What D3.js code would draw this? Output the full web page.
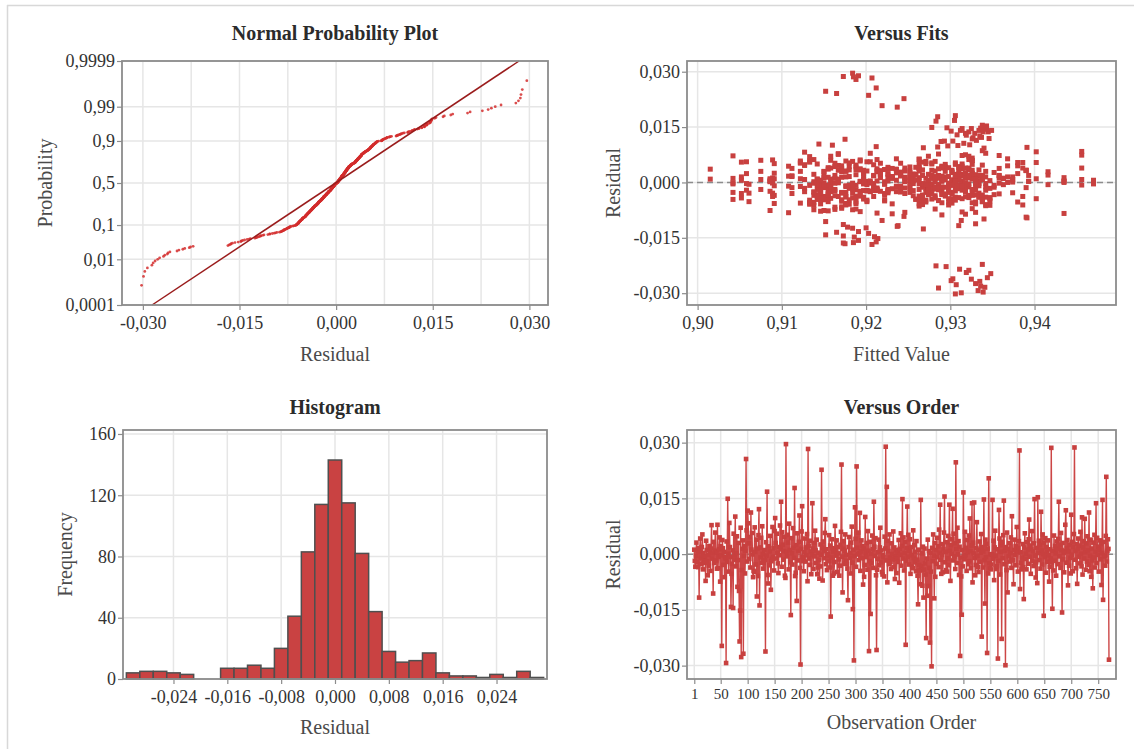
<!DOCTYPE html>
<html>
<head>
<meta charset="utf-8">
<script src="https://cdn.jsdelivr.net/npm/d3@7"></script>
<style>
  body { margin: 0; background: #fff; }
  svg text { font-family: "Liberation Serif", "Times New Roman", serif; }
</style>
</head>
<body>
<svg id="chart" width="1134" height="749"></svg>
<script>
// residuals in observation order, units of 0.0001
var residuals = [
  12,-18,-34,-4,31,-22,8,-35,17,-117,
  5,42,-9,-27,19,53,-41,3,-14,-23,
  -6,-72,36,11,-19,-57,-2,-31,22,7,
  -45,15,78,-12,2,-106,33,-24,9,58,
  -17,4,-39,79,-38,-7,13,45,-74,21,
  -3,-247,38,16,-29,6,-62,-7,-11,-293,
  34,-21,149,1,-47,84,19,-8,-142,-53,
  -26,10,-145,55,-15,-3,101,-33,3,48,
  -88,-16,30,-99,-235,-152,71,-277,-43,14,
  37,-268,-5,22,-52,9,256,64,-20,117,
  83,29,-13,46,-36,112,12,57,-1,-62,
  -45,-48,72,6,-28,39,-114,15,-59,51,
  121,-138,18,-9,44,-23,75,0,-39,-24,
  11,-16,-262,32,-4,168,-56,-79,21,-30,
  7,49,-96,-19,-13,73,-7,16,-44,62,
  97,30,-12,55,4,-25,-51,19,-3,77,
  13,141,-34,59,25,-15,8,47,-58,-64,
  296,6,-6,52,31,-41,82,11,-22,-164,
  43,2,-28,70,17,-10,178,-59,-50,24,
  -126,56,-17,9,33,104,-37,-297,14,61,
  129,-8,-19,-46,5,42,-20,18,-3,54,
  -73,283,22,-12,36,-29,7,-54,-1,137,
  15,-40,30,-6,63,10,-24,39,-54,-36,
  4,-15,-66,-33,26,-2,227,17,-71,34,
  -11,8,57,94,-27,13,-43,-5,0,-19,
  51,-36,23,-168,-9,40,16,-58,6,-52,
  -21,76,11,-4,37,-48,19,2,-14,-58,
  -31,25,60,241,-7,-103,14,35,-26,9,
  53,-18,-2,-27,-39,-124,19,46,-10,3,
  -52,31,74,-23,-148,12,-286,-5,126,41,
  -34,236,17,-1,58,-16,2,111,-45,7,
  37,-11,22,-82,15,-61,-29,100,4,-8,
  30,-42,62,9,-261,-19,33,-161,1,-25,
  50,13,-37,141,20,-5,43,-57,-258,-42,
  -13,6,39,-30,18,71,-22,10,-48,-55,
  -3,-8,-60,47,15,289,-17,181,-76,36,
  8,-27,53,-9,-21,-40,29,0,-14,61,
  -35,18,-67,-6,11,-51,-12,5,-21,38,
  -77,14,-2,56,-31,22,148,-12,45,-44,
  3,33,-244,-18,16,128,-7,52,-28,9,
  40,-53,19,-3,-33,-38,64,-10,24,-22,
  6,-46,35,-15,-58,-135,12,-29,-44,-81,
  146,-33,2,-85,20,-117,-42,15,-25,-55,
  -226,-12,-112,39,-86,8,-37,-238,4,-47,
  -302,17,-19,53,-4,-119,30,-61,11,-26,
  44,-8,21,-35,66,4,133,-15,-53,-2,
  27,-49,13,58,155,-22,6,-43,32,-47,
  -11,49,-30,133,9,-72,24,1,40,122,
  -17,55,-6,29,-40,247,14,-24,71,-1,
  35,-56,20,-274,-9,-60,-163,11,-33,166,
  -6,-14,60,-3,17,-45,38,5,-27,50,
  -19,96,8,-38,23,137,-76,31,2,139,
  -10,-57,-29,16,86,-5,-35,-48,12,34,
  -21,4,54,-222,19,-36,7,147,-16,-133,
  39,-8,28,-266,15,-52,204,-24,-38,0,
  -41,-28,-1,146,-13,36,-70,18,63,-4,
  -40,-32,13,-281,-18,119,42,-55,6,24,
  -228,33,-11,51,144,-27,9,-299,19,-43,
  58,-103,14,-6,30,-20,3,45,-37,102,
  -15,-17,-81,11,39,-2,21,-30,73,7,
  -47,16,35,279,-94,5,-23,-41,-9,27,
  -35,-121,18,56,-13,1,-41,32,12,-26,
  40,93,-7,23,-53,14,62,-19,8,-32,
  29,148,-4,-63,-22,17,-78,153,3,36,
  -16,24,-39,114,10,-28,53,0,-166,31,
  -8,43,-50,19,6,-21,37,-3,-74,-34,
  13,-12,286,-22,-147,9,-44,50,-18,22,
  2,-58,34,15,-27,41,141,-6,25,-37,
  57,11,-157,30,-14,4,-49,8,79,118,
  -23,16,38,-84,7,-31,26,-10,-52,106,
  -2,33,-46,19,54,287,-15,8,-38,27,
  -80,14,42,-7,23,-25,60,1,-33,99,
  -55,18,35,-12,95,5,-42,29,-20,48,
  10,-29,112,-46,-4,39,-61,15,-17,-92,
  31,-9,52,-36,6,137,-24,44,-2,20,
  -47,12,37,-14,27,-83,3,146,-123,33,
  -6,-4,-31,49,208,-20,9,40,14,-284
];

// fitted values in observation order, units of 0.0001
var fitted = [
  9286,9155,9331,9042,9263,9201,9374,9146,9318,9238,
  9089,9294,9176,9252,9338,9122,9267,9435,9209,9306,
  9158,9282,9015,9231,9326,9188,9142,9358,9274,9197,
  9302,9052,9167,9322,9246,9152,9390,9217,9290,9133,
  9271,9086,9334,9205,9150,9310,9263,9380,9184,9226,
  9342,9348,9112,9298,9171,9256,9138,9318,9278,9333,
  9193,9058,9278,9314,9222,9456,9163,9286,9152,9330,
  9241,9091,9173,9267,9306,9146,9160,9352,9201,9127,
  9290,9180,9075,9340,9311,9214,9274,9307,9155,9326,
  9213,9335,9061,9259,9338,9142,9212,9368,9188,9175,
  9402,9302,9236,9167,9322,9293,9089,9282,9150,9347,
  9197,9271,9042,9310,9226,9386,9173,9294,9133,9263,
  9327,9203,9209,9334,9108,9158,9318,9252,9176,9290,
  9363,9143,9325,9217,9278,9305,9122,9193,9330,9246,
  9086,9306,9391,9163,9267,9358,9184,9231,9298,9138,
  9212,9342,9274,9052,9314,9205,9171,9393,9256,9286,
  9150,9312,9222,9326,9091,9282,9197,9338,9146,9263,
  9184,9302,9416,9241,9176,9322,9127,9271,9213,9173,
  9310,9158,9374,9133,9290,9236,9285,9180,9347,9058,
  9268,9201,9318,9167,9278,9144,9294,9339,9226,9089,
  9308,9352,9142,9259,9330,9188,9286,9112,9209,9380,
  9163,9207,9314,9274,9155,9334,9252,9298,9042,9322,
  9217,9306,9176,9363,9263,9086,9193,9322,9138,9282,
  9435,9246,9171,9290,9318,9205,9245,9150,9326,9267,
  9122,9338,9184,9268,9302,9231,9158,9274,9368,9213,
  9091,9256,9310,9207,9146,9294,9180,9330,9236,9061,
  9342,9167,9278,9197,9314,9133,9286,9222,9390,9263,
  9155,9326,9075,9165,9298,9219,9252,9188,9318,9142,
  9306,9209,9358,9271,9176,9184,9334,9127,9241,9290,
  9201,9282,9456,9163,9186,9322,9286,9150,9335,9226,
  9267,9203,9310,9089,9193,9347,9138,9289,9259,9302,
  9171,9330,9217,9108,9286,9386,9184,9309,9246,9155,
  9294,9052,9213,9338,9303,9278,9167,9212,9374,9236,
  9142,9306,9263,9334,9197,9318,9180,9091,9344,9282,
  9352,9146,9290,9222,9314,9158,9256,9402,9201,9326,
  9271,9133,9342,9188,9231,9191,9298,9306,9086,9263,
  9310,9176,9122,9286,9209,9334,9150,9435,9274,9193,
  9322,9241,9163,9302,9042,9267,9184,9330,9226,9358,
  9155,9290,9318,9205,9278,9138,9338,9252,9171,9314,
  9393,9197,9319,9282,9112,9319,9306,9217,9146,9326,
  9263,9188,9338,9058,9294,9167,9236,9310,9380,9201,
  9274,9142,9322,9213,9176,9165,9286,9089,9347,9246,
  9341,9155,9302,9231,9267,9310,9184,9368,9127,9290,
  9283,9209,9330,9158,9318,9456,9193,9322,9256,9171,
  9306,9334,9075,9278,9222,9237,9150,9298,9363,9138,
  9314,9180,9259,9091,9326,9205,9329,9241,9271,9163,
  9352,9286,9217,9122,9338,9197,9306,9146,9390,9263,
  9176,9294,9052,9318,9330,9188,9226,9282,9155,9337,
  9310,9133,9274,9213,9342,9152,9252,9086,9322,9167,
  9236,9302,9416,9330,9184,9267,9185,9318,9142,9283,
  9201,9290,9158,9334,9108,9278,9231,9347,9171,9314,
  9263,9285,9374,9209,9326,9345,9150,9246,9193,9301,
  9298,9176,9061,9286,9338,9222,9138,9306,9256,9180,
  9330,9213,9402,9338,9267,9163,9294,9336,9127,9191,
  9318,9188,9241,9301,9342,9155,9237,9274,9386,9205,
  9310,9146,9089,9325,9282,9226,9171,9358,9263,9322,
  9197,9302,9435,9336,9184,9346,9252,9133,9290,9217,
  9295,9326,9158,9271,9343,9042,9306,9313,9209,9338,
  9176,9313,9246,9286,9122,9318,9193,9368,9142,9323,
  9274,9231,9330,9163,9456,9298,9188,9112,9314,9259,
  9150,9282,9222,9188,9390,9334,9201,9267,9091,9302,
  9326,9178,9241,9058,9294,9167,9347,9213,9278,9138,
  9310,9340,9184,9256,9380,9155,9322,9226,9075,9290,
  9171,9296,9263,9342,9209,9306,9146,9343,9393,9236,
  9286,9197,9318,9331,9122,9274,9180,9330,9175,9252,
  9302,9163,9222,9358,9052,9314,9193,9267,9138,9338,
  9246,9290,9185,9326,9210,9158,9402,9278,9213,9306,
  9086,9231,9334,9176,9298,9259,9349,9142,9318,9188,
  9271,9363,9191,9310,9150,9226,9286,9127,9342,9326,
  9205,9322,9263,9435,9167,9294,9236,9108,9338,9316,
  9184,9302,9146,9278,9386,9173,9252,9330,9089,9217,
  9314,9171,9290,9456,9241,9158,9326,9197,9274,9297,
  9133,9306,9222,9342,9391,9263,9188,9416,9318,9209,
  9282,9155,9303,9042,9330,9246,9176,9374,9298,9245,
  9201,9314,9163,9267,9470,9339,9226,9290,9138,9322,
  9180,9358,9286,9112,9252,9213,9306,9314,9200,9390,
  9271,9470,9193,9326,9219,9146,9015,9298,9231,9341
];

// histogram: bin centres (units of 0.001) and counts
var histCenters = [-30,-28,-26,-24,-22,-20,-18,-16,-14,-12,-10,-8,-6,-4,-2,0,
                   2,4,6,8,10,12,14,16,18,20,22,24,26,28,30];
var histCounts = [4,5,5,4,3,0,0,7,7,9,7,20,41,83,114,143,
                  115,82,44,18,11,12,17,4,2,2,1,3,1,5,1];

// tick values
var probTicks = [0.0001, 0.01, 0.1, 0.5, 0.9, 0.99, 0.9999];
var residTicks = [-0.03, -0.015, 0, 0.015, 0.03];
var normGrid = [-0.03, -0.0225, -0.015, -0.0075, 0, 0.0075, 0.015, 0.0225, 0.03];
var fitTicks = [0.90, 0.91, 0.92, 0.93, 0.94];
var histTicks = [-0.024, -0.016, -0.008, 0, 0.008, 0.016, 0.024];
var freqTicks = [0, 40, 80, 120, 160];
var orderTicks = [1, 50, 100, 150, 200, 250, 300, 350, 400, 450, 500, 550, 600, 650, 700, 750];

var red = "#c8403f";
var gridColor = "#e6e6e6";
var frameColor = "#8c8c8c";

//comma decimal, plain hyphen minus
var locale = d3.formatLocale({decimal: ",", thousands: ".", grouping: [3], currency: ["", ""], minus: "-"});
var fmt3 = locale.format(".3f");
var fmt2 = locale.format(".2f");
var fmtP = locale.format("~g");

//inverse normal cdf (Acklam) for the probability axis
function qnorm(p) {
  var a = [-3.969683028665376e+01, 2.209460984245205e+02, -2.759285104469687e+02, 1.383577518672690e+02, -3.066479806614716e+01, 2.506628277459239e+00];
  var b = [-5.447609879822406e+01, 1.615858368580409e+02, -1.556989798598866e+02, 6.680131188771972e+01, -1.328068155288572e+01];
  var c = [-7.784894002430293e-03, -3.223964580411365e-01, -2.400758277161838e+00, -2.549671010243132e+00, 4.374664141464968e+00, 2.938163982698783e+00];
  var d = [7.784695709041462e-03, 3.224671290700398e-01, 2.445134137142996e+00, 3.754408661907416e+00];
  var q, r;
  if (p < 0.02425) {
    q = Math.sqrt(-2 * Math.log(p));
    return (((((c[0]*q+c[1])*q+c[2])*q+c[3])*q+c[4])*q+c[5]) / ((((d[0]*q+d[1])*q+d[2])*q+d[3])*q+1);
  }
  if (p > 1 - 0.02425) {
    q = Math.sqrt(-2 * Math.log(1 - p));
    return -(((((c[0]*q+c[1])*q+c[2])*q+c[3])*q+c[4])*q+c[5]) / ((((d[0]*q+d[1])*q+d[2])*q+d[3])*q+1);
  }
  q = p - 0.5; r = q * q;
  return (((((a[0]*r+a[1])*r+a[2])*r+a[3])*r+a[4])*r+a[5])*q / (((((b[0]*r+b[1])*r+b[2])*r+b[3])*r+b[4])*r+1);
}

var N = Math.min(residuals.length, fitted.length);
var obs = d3.range(N).map(function (i) {
  return { order: i + 1, resid: residuals[i] / 10000, fit: fitted[i] / 10000 };
});

var svg = d3.select("#chart");

//outer border of the figure
svg.append("line").attr("x1", 7).attr("x2", 1134).attr("y1", 5.5).attr("y2", 5.5)
  .attr("stroke", "#d8d8d8").attr("stroke-width", 1.5);
svg.append("line").attr("x1", 7.5).attr("x2", 7.5).attr("y1", 5).attr("y2", 749)
  .attr("stroke", "#d8d8d8").attr("stroke-width", 1.5);

//generic panel: grid, axes, frame, titles. returns the layer for marks
function panel(box, xs, ys, opt) {
  var g = svg.append("g");
  var grid = g.append("g");
  grid.selectAll("line.gx").data(opt.gridX).enter().append("line")
    .attr("x1", function (d) { return xs(d); }).attr("x2", function (d) { return xs(d); })
    .attr("y1", box.y).attr("y2", box.y + box.h)
    .attr("stroke", gridColor).attr("stroke-width", 1.5);
  grid.selectAll("line.gy").data(opt.gridY).enter().append("line")
    .attr("y1", function (d) { return ys(d); }).attr("y2", function (d) { return ys(d); })
    .attr("x1", box.x).attr("x2", box.x + box.w)
    .attr("stroke", gridColor).attr("stroke-width", 1.5);

  var marks = g.append("g");

  var xAxis = d3.axisBottom(xs).tickValues(opt.xTicks).tickFormat(opt.xFmt)
    .tickSize(5).tickSizeOuter(0).tickPadding(opt.xPad || 6);
  var ax = g.append("g").attr("transform", "translate(0," + (box.y + box.h) + ")").call(xAxis);
  var yAxis = d3.axisLeft(ys).tickValues(opt.yTicks).tickFormat(opt.yFmt)
    .tickSize(5).tickSizeOuter(0).tickPadding(2);
  var ay = g.append("g").attr("transform", "translate(" + box.x + ",0)").call(yAxis);
  [ax, ay].forEach(function (a) {
    a.select(".domain").remove();
    a.selectAll(".tick line").attr("stroke", frameColor).attr("stroke-width", 1.2);
    a.selectAll(".tick text").attr("fill", "#333").style("font-size", "18px")
      .style("font-family", '"Liberation Serif", serif');
  });
  if (opt.xFont) ax.selectAll(".tick text").style("font-size", opt.xFont);

  g.append("rect").attr("x", box.x).attr("y", box.y).attr("width", box.w).attr("height", box.h)
    .attr("fill", "none").attr("stroke", frameColor).attr("stroke-width", 1.8);

  g.append("text").attr("x", box.x + box.w / 2).attr("y", opt.titleY)
    .attr("text-anchor", "middle").attr("fill", "#2b2b2b")
    .style("font-size", "20px").style("font-weight", "bold").text(opt.title);
  g.append("text").attr("x", box.x + box.w / 2).attr("y", opt.xLabelY)
    .attr("text-anchor", "middle").attr("fill", "#4a4a4a")
    .style("font-size", "20px").text(opt.xLabel);
  g.append("text").attr("transform", "translate(" + opt.yLabelX + "," + (box.y + box.h / 2) + ") rotate(-90)")
    .attr("text-anchor", "middle").attr("dy", "0.35em").attr("fill", "#4a4a4a")
    .style("font-size", "20px").text(opt.yLabel);
  return marks;
}

// ---- Normal probability plot ----
var b1 = { x: 122, y: 61, w: 426, h: 244 };
var zLo = qnorm(0.0001), zHi = qnorm(0.9999);
var probZ = probTicks.map(qnorm);
var x1 = d3.scaleLinear().domain([-0.03324, 0.03289]).range([b1.x, b1.x + b1.w]);
var y1 = d3.scaleLinear().domain([zLo, zHi]).range([b1.y + b1.h, b1.y]);
var m1 = panel(b1, x1, y1, {
  gridX: normGrid, gridY: probZ, xTicks: residTicks, yTicks: probZ,
  xFmt: fmt3, yFmt: function (z, i) { return fmtP(probTicks[i]); },
  title: "Normal Probability Plot", titleY: 40,
  xLabel: "Residual", xLabelY: 361, yLabel: "Probability", yLabelX: 45
});
var sortedRes = obs.map(function (d) { return d.resid; }).sort(d3.ascending);
var nRes = sortedRes.length;
var probPts = sortedRes.map(function (r, i) {
  return { r: r, z: qnorm((i + 1 - 0.3) / (nRes + 0.4)) };
});
var mu = d3.mean(sortedRes), sd = d3.deviation(sortedRes);
m1.selectAll("circle").data(probPts).enter().append("circle")
  .attr("cx", function (d) { return x1(d.r); })
  .attr("cy", function (d) { return y1(d.z); })
  .attr("r", 1.4).attr("fill", "#d42e2e").attr("opacity", 0.85);
m1.append("line")
  .attr("x1", x1(mu + sd * zLo)).attr("y1", y1(zLo))
  .attr("x2", x1(mu + sd * zHi)).attr("y2", y1(zHi))
  .attr("stroke", "#9a1c1c").attr("stroke-width", 1.5);

// ---- Versus fits ----
var b2 = { x: 687, y: 61, w: 429, h: 244 };
var x2 = d3.scaleLinear().domain([0.89874, 0.94967]).range([b2.x, b2.x + b2.w]);
var y2 = d3.scaleLinear().domain([-0.0332, 0.0329]).range([b2.y + b2.h, b2.y]);
var m2 = panel(b2, x2, y2, {
  gridX: fitTicks, gridY: residTicks, xTicks: fitTicks, yTicks: residTicks,
  xFmt: fmt2, yFmt: fmt3, title: "Versus Fits", titleY: 40,
  xLabel: "Fitted Value", xLabelY: 361, yLabel: "Residual", yLabelX: 613
});
m2.append("line").attr("x1", b2.x).attr("x2", b2.x + b2.w)
  .attr("y1", y2(0)).attr("y2", y2(0))
  .attr("stroke", "#8c8c8c").attr("stroke-width", 1.5).attr("stroke-dasharray", "6,4");
m2.selectAll("rect").data(obs).enter().append("rect")
  .attr("x", function (d) { return x2(d.fit) - 2.5; })
  .attr("y", function (d) { return y2(d.resid) - 2.5; })
  .attr("width", 5).attr("height", 5).attr("fill", red);

// ---- Histogram ----
var b3 = { x: 123, y: 430, w: 424, h: 249 };
var x3 = d3.scaleLinear().domain([-0.0315, 0.0315]).range([b3.x, b3.x + b3.w]);
var y3 = d3.scaleLinear().domain([0, 162.6]).range([b3.y + b3.h, b3.y]);
var m3 = panel(b3, x3, y3, {
  gridX: histTicks, gridY: freqTicks, xTicks: histTicks, yTicks: freqTicks,
  xFmt: fmt3, yFmt: d3.format("d"), title: "Histogram", titleY: 414,
  xLabel: "Residual", xLabelY: 734, yLabel: "Frequency", yLabelX: 65
});
var bins = histCenters.map(function (c, i) { return { c: c / 1000, n: histCounts[i] }; })
  .filter(function (d) { return d.n > 0; });
m3.selectAll("rect").data(bins).enter().append("rect")
  .attr("x", function (d) { return x3(d.c - 0.001); })
  .attr("width", function (d) { return x3(d.c + 0.001) - x3(d.c - 0.001); })
  .attr("y", function (d) { return y3(d.n); })
  .attr("height", function (d) { return y3(0) - y3(d.n); })
  .attr("fill", "#c94242").attr("stroke", "#4f4f4f").attr("stroke-width", 1.5);

// ---- Versus order ----
var b4 = { x: 687, y: 430, w: 429, h: 249 };
var x4 = d3.scaleLinear().domain([-12.5, 783]).range([b4.x, b4.x + b4.w]);
var y4 = d3.scaleLinear().domain([-0.0336, 0.0334]).range([b4.y + b4.h, b4.y]);
var m4 = panel(b4, x4, y4, {
  gridX: orderTicks, gridY: residTicks, xTicks: orderTicks, yTicks: residTicks,
  xFmt: d3.format("d"), yFmt: fmt3, title: "Versus Order", titleY: 414,
  xLabel: "Observation Order", xLabelY: 729, yLabel: "Residual", yLabelX: 613,
  xFont: "15px", xPad: 4
});
m4.append("line").attr("x1", b4.x).attr("x2", b4.x + b4.w)
  .attr("y1", y4(0)).attr("y2", y4(0))
  .attr("stroke", "#8c8c8c").attr("stroke-width", 1.5).attr("stroke-dasharray", "6,4");
var orderLine = d3.line()
  .x(function (d) { return x4(d.order); })
  .y(function (d) { return y4(d.resid); });
m4.append("path").datum(obs).attr("d", orderLine)
  .attr("fill", "none").attr("stroke", "#cc4646").attr("stroke-width", 1.4);
m4.selectAll("rect").data(obs).enter().append("rect")
  .attr("x", function (d) { return x4(d.order) - 2.3; })
  .attr("y", function (d) { return y4(d.resid) - 2.3; })
  .attr("width", 4.6).attr("height", 4.6).attr("fill", red);
</script>
</body>
</html>
